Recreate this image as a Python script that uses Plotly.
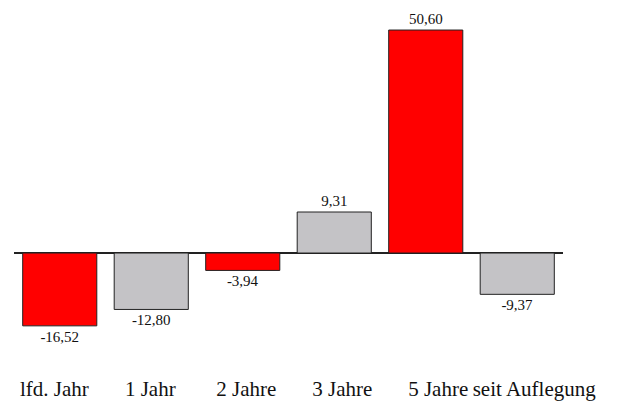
import plotly.graph_objects as go

categories = ["lfd. Jahr", "1 Jahr", "2 Jahre", "3 Jahre", "5 Jahre", "seit Auflegung"]
values = [-16.52, -12.80, -3.94, 9.31, 50.60, -9.37]
bar_colors = ["#FF0000", "#C4C3C6", "#FF0000", "#C4C3C6", "#FF0000", "#C4C3C6"]

labels = [f"{v:.2f}".replace(".", ",") for v in values]
idx = list(range(len(categories)))

fig = go.Figure()
fig.add_trace(
    go.Bar(
        x=categories,
        y=values,
        text=labels,
        textposition="outside",
        textfont=dict(family="Liberation Serif", size=15, color="#111111"),
        marker=dict(color=bar_colors, line=dict(color="#222222", width=1)),
        cliponaxis=False,
        hoverinfo="skip",
    )
)
# invisible helper trace so the category-label axis is drawn
fig.add_trace(
    go.Scatter(
        x=idx,
        y=values,
        xaxis="x2",
        mode="markers",
        marker=dict(opacity=0),
        hoverinfo="skip",
        showlegend=False,
    )
)

fig.update_layout(
    width=619,
    height=403,
    margin=dict(l=6, r=64, t=0, b=61, autoexpand=False),
    paper_bgcolor="white",
    plot_bgcolor="white",
    bargap=0.19,
    showlegend=False,
    font=dict(family="Liberation Serif", color="#111111"),
    xaxis=dict(
        showgrid=False,
        showline=False,
        ticks="",
        showticklabels=False,
        automargin=False,
    ),
    xaxis2=dict(
        overlaying="x",
        anchor="y",
        side="bottom",
        range=[-0.42, 5.30],
        tickvals=idx,
        ticktext=categories,
        tickangle=0,
        showgrid=False,
        showline=False,
        zeroline=False,
        ticks="",
        tickfont=dict(family="Liberation Serif", size=21, color="#111111"),
        ticklabelstandoff=24,
        automargin=False,
    ),
    yaxis=dict(
        range=[-22.0, 55.6],
        showgrid=False,
        showticklabels=False,
        ticks="",
        zeroline=True,
        zerolinecolor="#222222",
        zerolinewidth=1.5,
        automargin=False,
    ),
)

fig.write_html("out.html")
